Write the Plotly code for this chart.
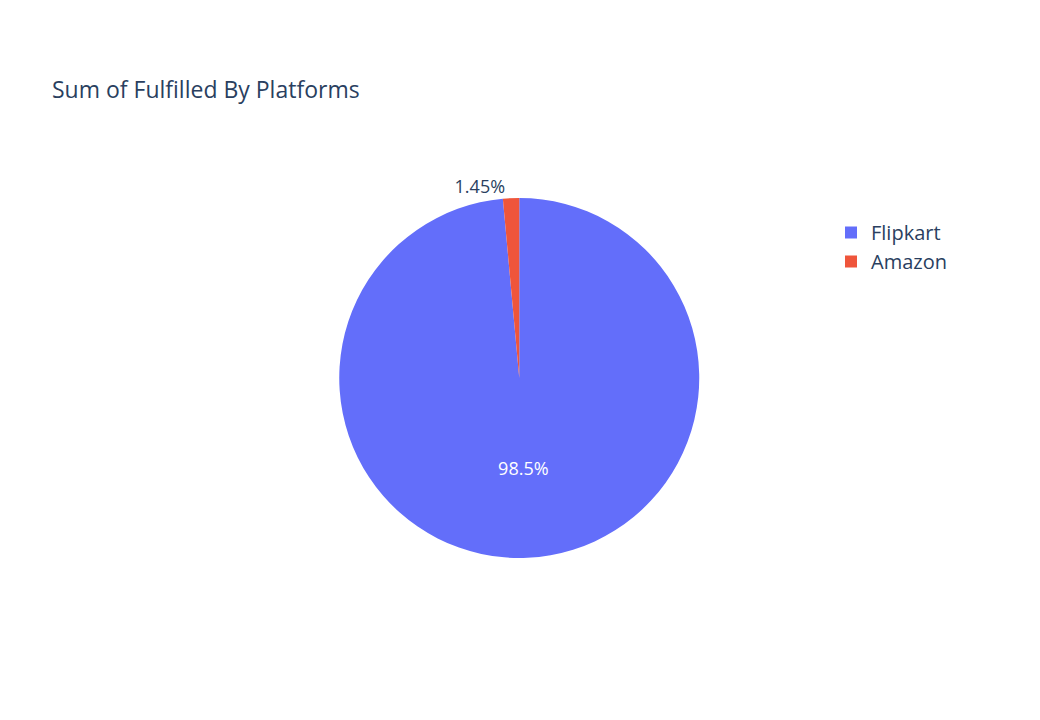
import plotly.graph_objects as go

# Platform totals
platforms = ["Flipkart", "Amazon"]
fulfilled = [1970, 29]

family = "Open Sans"
ink = "#2a3f5f"

fig = go.Figure(go.Pie(
    labels=platforms,
    values=fulfilled,
    marker=dict(colors=["#636efa", "#EF553B"]),
    textfont=dict(family=family, size=18),
    domain=dict(x=[0.25, 1.0], y=[1 - 550 / 720, 1 - 190 / 720]),
))

fig.update_layout(
    width=1040, height=720,
    title=dict(text="Sum of Fulfilled By Platforms", x=44 / 1040, y=1 - 82 / 720,
               yanchor="middle", font=dict(family=family, size=23, color=ink)),
    font=dict(family=family, color=ink),
    legend=dict(xref="container", yref="container", x=823 / 1040, y=1 - 205 / 720,
                xanchor="left", yanchor="top", font=dict(size=20)),
    margin=dict(l=0, r=200, t=0, b=0),
    paper_bgcolor="white",
)

fig.write_html("out.html")
